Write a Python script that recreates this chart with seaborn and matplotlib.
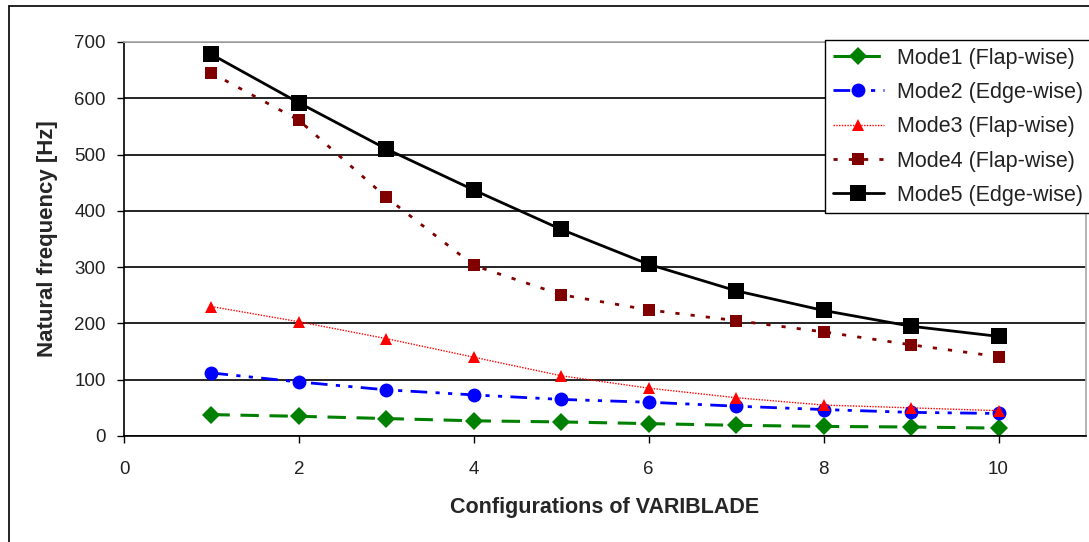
import matplotlib
matplotlib.use("Agg")
import matplotlib.pyplot as plt
import seaborn as sns
import pandas as pd
from matplotlib.lines import Line2D

config = [1, 2, 3, 4, 5, 6, 7, 8, 9, 10]
mode1 = [38, 35, 31, 27, 25, 22, 19, 17, 16, 14]
mode2 = [112, 96, 82, 73, 65, 60, 53, 47, 42, 40]
mode3 = [230, 203, 173, 140, 107, 85, 68, 55, 50, 45]
mode4 = [645, 561, 424, 303, 251, 224, 205, 185, 162, 141]
mode5 = [678, 592, 510, 437, 367, 305, 258, 223, 195, 177]
labels = ["Mode1 (Flap-wise)", "Mode2 (Edge-wise)", "Mode3 (Flap-wise)",
          "Mode4 (Flap-wise)", "Mode5 (Edge-wise)"]
xticks = [0, 2, 4, 6, 8, 10]
yticks = [0, 100, 200, 300, 400, 500, 600, 700]

sns.set_theme(style="white")
plt.rcParams['font.family'] = ['Liberation Sans', 'DejaVu Sans']

W, H = 1089, 542
fig = plt.figure(figsize=(W / 100, H / 100), dpi=100)
ax = fig.add_axes([124 / W, (H - 436) / H, 962 / W, 394 / H])

series = [mode1, mode2, mode3, mode4, mode5]
styles = [
    dict(color="#008000", marker="D", markersize=9, linewidth=2.2, dashes=(6, 3.5)),
    dict(color="#0000FF", marker="o", markersize=10, linewidth=2.0, dashes=(6, 3, 1.5, 3, 1.5, 3)),
    dict(color="#FF0000", marker="^", markersize=9, linewidth=1.0, dashes=(1, 1)),
    dict(color="#800000", marker="s", markersize=9, linewidth=2.0, dashes=(1.5, 4)),
    dict(color="#000000", marker="s", markersize=12, linewidth=2.0, dashes=None),
]
for vals, lab, st in zip(series, labels, styles):
    df = pd.DataFrame({"x": config, "y": vals})
    d = st.pop("dashes")
    sns.lineplot(data=df, x="x", y="y", ax=ax, label=lab,
                 markeredgewidth=0, **st)
    if d is not None:
        ax.lines[-1].set_dashes(d)

ax.set_xlim(0, 11)
ax.set_ylim(0, 700)
ax.set_xticks(xticks)
ax.set_yticks(yticks)
ax.tick_params(axis="both", labelsize=13.5, colors="black", length=5, width=1, direction="out")
ax.tick_params(axis="x", bottom=True, pad=13)
ax.tick_params(axis="y", left=True, pad=8)
for t in ax.get_xticklabels() + ax.get_yticklabels():
    t.set_color("#222222")
ax.yaxis.grid(True, color="black", linewidth=1.2)
ax.set_axisbelow(True)
for s in ["left", "bottom"]:
    ax.spines[s].set_color("black")
    ax.spines[s].set_linewidth(1.2)
ax.spines["top"].set_color("#aaaaaa")
ax.spines["right"].set_color("#aaaaaa")

ax.set_xlabel("Configurations of VARIBLADE", fontsize=15.5, fontweight="bold", labelpad=14)
ax.set_ylabel("Natural frequency [Hz]", fontsize=16, fontweight="bold", labelpad=12)

leg = ax.legend(loc="upper left", bbox_to_anchor=(825 / W, 1 - 40 / H),
                bbox_transform=fig.transFigure, fontsize=15.5,
                frameon=True, fancybox=False, edgecolor="black", framealpha=1,
                handlelength=2.4, borderpad=0.35, labelspacing=0.62, handletextpad=0.6,
                borderaxespad=0)
leg.get_frame().set_linewidth(1.0)
for t in leg.get_texts():
    t.set_color("#222222")

fig.lines.append(Line2D([9 / W, 9 / W], [0, 1 - 6 / H], transform=fig.transFigure,
                        color="black", linewidth=1.2))
fig.lines.append(Line2D([9 / W, 1], [1 - 6 / H, 1 - 6 / H], transform=fig.transFigure,
                        color="black", linewidth=1.2))

fig.savefig("out.png", dpi=100)
